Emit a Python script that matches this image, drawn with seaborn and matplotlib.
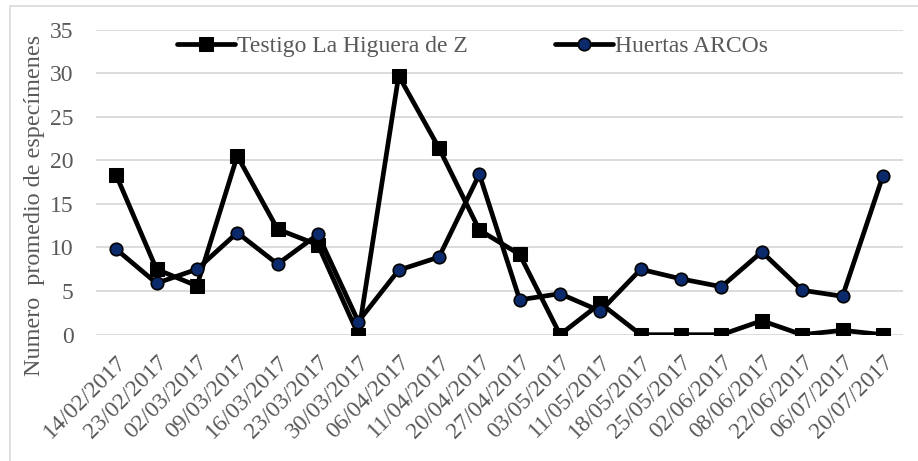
import numpy as np
import pandas as pd
import matplotlib
matplotlib.use("Agg")
import matplotlib.pyplot as plt
import seaborn as sns

fechas = ["14/02/2017", "23/02/2017", "02/03/2017", "09/03/2017", "16/03/2017",
          "23/03/2017", "30/03/2017", "06/04/2017", "11/04/2017", "20/04/2017",
          "27/04/2017", "03/05/2017", "11/05/2017", "18/05/2017", "25/05/2017",
          "02/06/2017", "08/06/2017", "22/06/2017", "06/07/2017", "20/07/2017"]

testigo = [18.3, 7.5, 5.6, 20.5, 12.1, 10.3, 0.0, 29.7, 21.4, 12.0,
           9.2, 0.0, 3.6, 0.0, 0.0, 0.0, 1.6, 0.0, 0.5, 0.0]

huertas = [9.8, 5.9, 7.5, 11.7, 8.1, 11.5, 1.5, 7.4, 8.9, 18.4,
           4.0, 4.7, 2.7, 7.5, 6.4, 5.5, 9.5, 5.1, 4.4, 18.2]

serie_testigo = "Testigo La Higuera de Z"
serie_huertas = "Huertas ARCOs"
etiqueta_y = "Numero  promedio de especímenes"
y_ticks = [0, 5, 10, 15, 20, 25, 30, 35]

sns.set_theme(style="white")
plt.rcParams["font.family"] = ["Liberation Serif", "DejaVu Serif"]
gris = "#595959"
fs = 17

df = pd.DataFrame({"pos": np.arange(len(fechas)),
                   "testigo": testigo, "huertas": huertas})

fig = plt.figure(figsize=(9.18, 4.61), dpi=100)
ax = fig.add_axes([0.1046, 0.274, 0.8791, 0.662])

sns.lineplot(data=df, x="pos", y="testigo", ax=ax, color="black", lw=3.4,
             marker="s", markersize=10, markerfacecolor="black",
             markeredgecolor="black", label=serie_testigo)
sns.lineplot(data=df, x="pos", y="huertas", ax=ax, color="black", lw=3.4,
             marker="o", markersize=9, markerfacecolor="#0b2a6b",
             markeredgecolor="black", markeredgewidth=1.2, label=serie_huertas)

ax.set_xlim(-0.5, len(fechas) - 0.5)
ax.set_ylim(0, 35)
ax.set_yticks(y_ticks)
ax.set_xticks(df["pos"])
ax.set_xticklabels(fechas, rotation=45, ha="right", rotation_mode="anchor")
ax.yaxis.grid(True, color="#d9d9d9", lw=1.3)
ax.set_axisbelow(True)
for s in ax.spines.values():
    s.set_visible(False)
ax.tick_params(axis="y", length=0, pad=16, labelsize=fs, labelcolor=gris)
ax.tick_params(axis="x", length=0, pad=12, labelsize=fs, labelcolor=gris)
ax.set_xlabel("")
ax.set_ylabel(etiqueta_y, fontsize=17.4, color=gris)
ax.yaxis.set_label_coords(-0.063, 0.422)

leg = ax.legend(loc="center", bbox_to_anchor=(0.4665, 0.945), ncol=2,
                frameon=False, fontsize=fs, handlelength=2.45,
                columnspacing=3.7, handletextpad=0.1)
for t in leg.get_texts():
    t.set_color(gris)

# chart area border
fig.patches.append(plt.Rectangle((10 / 918, -0.1), 1.2, 1.1 - 6 / 461,
                                 transform=fig.transFigure, fill=False,
                                 edgecolor="#d9d9d9", lw=1.2))

fig.savefig("out.png", dpi=100, facecolor="white")
